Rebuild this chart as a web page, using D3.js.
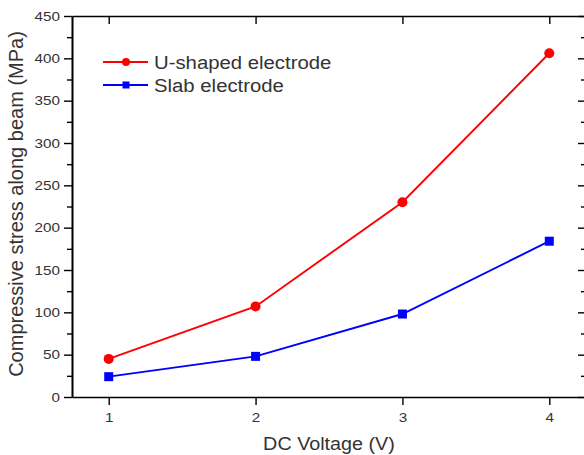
<!DOCTYPE html>
<html>
<head>
<meta charset="utf-8">
<script src="https://cdn.jsdelivr.net/npm/d3@7"></script>
<style>
  body { margin: 0; background: #fff; }
  svg { display: block; font-family: "Liberation Sans", Arial, sans-serif; }
</style>
</head>
<body>
<div id="chart"></div>
<script>
// Data
const voltages = [1, 2, 3, 4];
const uShaped = [45, 107, 230, 406];
const slab = [24, 48, 98, 184];
const xTicks = [1, 2, 3, 4];
const yTicks = [0, 50, 100, 150, 200, 250, 300, 350, 400, 450];
const yMinorTicks = d3.range(25, 450, 50);

const width = 584, height = 455;
const margin = { left: 72, right: -2, top: 16, bottom: 58 };
// the source figure is slightly stretched sideways
const stretch = 1.13;

const svg = d3.select('#chart').append('svg')
    .attr('width', width)
    .attr('height', height);

const x = d3.scaleLinear()
    .domain([0.75, 4.25])
    .range([margin.left, width - margin.right]);

const y = d3.scaleLinear()
    .domain([0, 450])
    .range([height - margin.bottom, margin.top]);

const axisColor = '#000';
const labelColor = '#333';

// Axes
const xAxis = svg.append('g')
    .attr('transform', `translate(0,${y(0)})`)
    .call(d3.axisBottom(x).tickValues(xTicks).tickFormat(d3.format('d')).tickSize(8).tickSizeOuter(0));

const xTop = svg.append('g')
    .attr('transform', `translate(0,${y(450)})`)
    .call(d3.axisBottom(x).tickValues(xTicks).tickFormat('').tickSize(8).tickSizeOuter(0));

const yAxis = svg.append('g')
    .attr('transform', `translate(${x(0.75)},0)`)
    .call(d3.axisLeft(y).tickValues(yTicks).tickSize(8).tickSizeOuter(0));

const yMinor = svg.append('g')
    .attr('transform', `translate(${x(0.75)},0)`)
    .call(d3.axisLeft(y).tickValues(yMinorTicks).tickFormat('').tickSize(5).tickSizeOuter(0));

// right-side ticks point inward
const yRight = svg.append('g')
    .attr('transform', `translate(${x(4.25)},0)`)
    .call(d3.axisLeft(y).tickValues(yTicks).tickFormat('').tickSizeOuter(0));
yRight.selectAll('.tick line').attr('x2', -8);

const yRightMinor = svg.append('g')
    .attr('transform', `translate(${x(4.25)},0)`)
    .call(d3.axisLeft(y).tickValues(yMinorTicks).tickFormat('').tickSizeOuter(0));
yRightMinor.selectAll('.tick line').attr('x2', -5);

[xAxis, xTop, yAxis, yMinor, yRight, yRightMinor].forEach(g => {
    g.selectAll('.domain').attr('stroke', axisColor).attr('stroke-width', 1.6);
    g.selectAll('.tick line').attr('stroke', axisColor).attr('stroke-width', 1.4);
    g.selectAll('.tick text')
        .attr('fill', labelColor)
        .style('font-size', '13.5px')
        .style('font-family', '"Liberation Sans", Arial, sans-serif');
});
xAxis.selectAll('.tick text')
    .attr('y', 0).attr('dy', 0)
    .attr('transform', `translate(0,25) scale(${stretch},1)`);
yAxis.selectAll('.tick text')
    .attr('x', 0)
    .attr('transform', `translate(-12,0) scale(${stretch},1)`);

// Axis titles
svg.append('text')
    .attr('transform', `translate(329,450) scale(${stretch},1)`)
    .attr('text-anchor', 'middle')
    .attr('fill', labelColor)
    .style('font-size', '17.5px')
    .text('DC Voltage (V)');

svg.append('text')
    .attr('transform', 'translate(23,204) rotate(-90)')
    .attr('text-anchor', 'middle')
    .attr('fill', labelColor)
    .style('font-size', '20px')
    .text('Compressive stress along beam (MPa)');

// Series
const series = [
    { name: 'U-shaped electrode', values: uShaped, color: '#ff0000', shape: 'circle' },
    { name: 'Slab electrode', values: slab, color: '#0000ff', shape: 'square' }
];

const line = d3.line()
    .x(d => x(d[0]))
    .y(d => y(d[1]));

series.forEach(s => {
    const pts = voltages.map((v, i) => [v, s.values[i]]);
    svg.append('path')
        .datum(pts)
        .attr('fill', 'none')
        .attr('stroke', s.color)
        .attr('stroke-width', 1.9)
        .attr('d', line);

    if (s.shape === 'circle') {
        svg.selectAll(null).data(pts).enter().append('circle')
            .attr('cx', d => x(d[0]))
            .attr('cy', d => y(d[1]))
            .attr('r', 5)
            .attr('fill', s.color);
    } else {
        svg.selectAll(null).data(pts).enter().append('rect')
            .attr('x', d => x(d[0]) - 4.5)
            .attr('y', d => y(d[1]) - 4.5)
            .attr('width', 9)
            .attr('height', 9)
            .attr('fill', s.color);
    }
});

// Legend
const legend = svg.append('g');
series.forEach((s, i) => {
    const ly = 62 + i * 23;
    legend.append('line')
        .attr('x1', 103).attr('x2', 148)
        .attr('y1', ly).attr('y2', ly)
        .attr('stroke', s.color)
        .attr('stroke-width', 1.9);
    if (s.shape === 'circle') {
        legend.append('circle').attr('cx', 126).attr('cy', ly).attr('r', 4).attr('fill', s.color);
    } else {
        legend.append('rect').attr('x', 122.5).attr('y', ly - 3.5).attr('width', 7).attr('height', 7).attr('fill', s.color);
    }
    legend.append('text')
        .attr('transform', `translate(154,${ly + 6.5}) scale(${stretch},1)`)
        .attr('fill', labelColor)
        .style('font-size', '18px')
        .text(s.name);
});
</script>
</body>
</html>
